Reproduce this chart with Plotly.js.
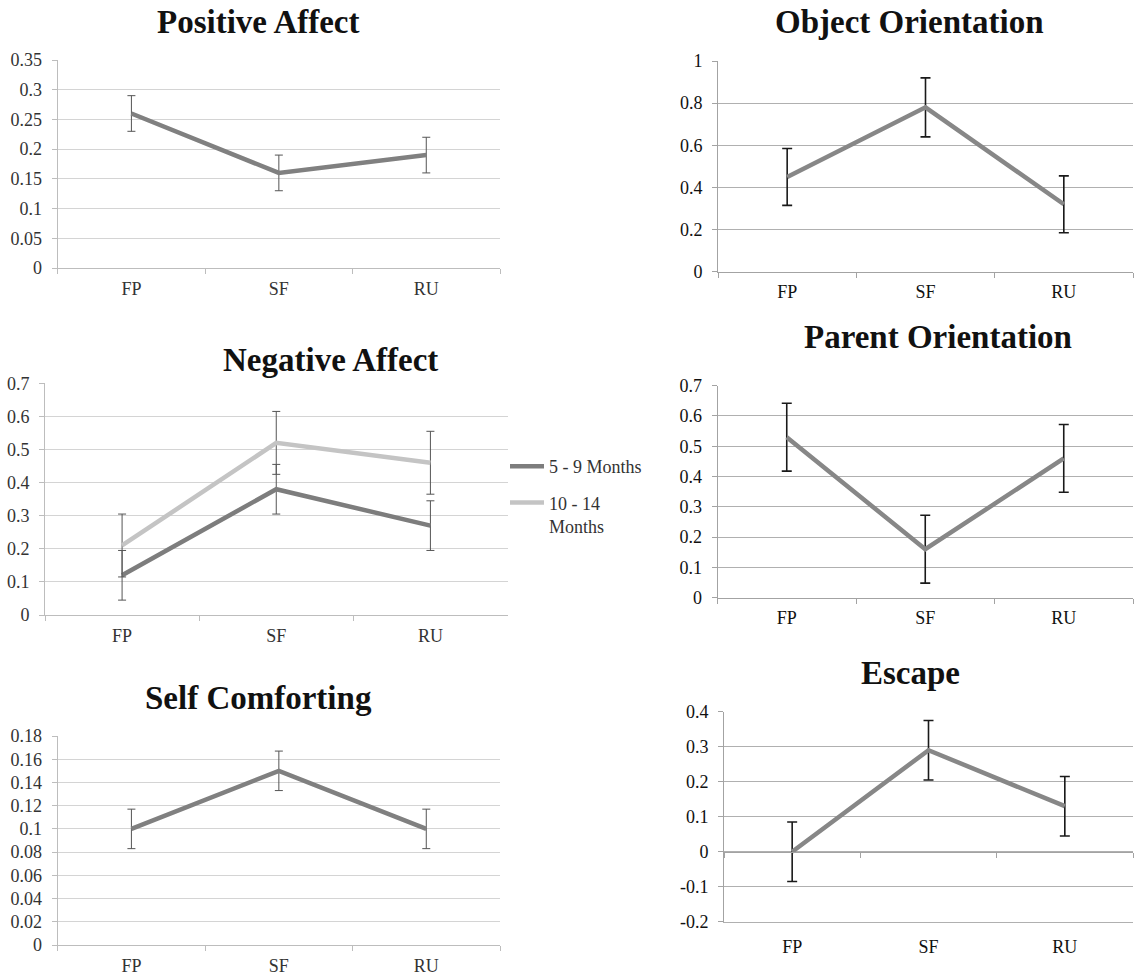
<!DOCTYPE html>
<html><head><meta charset="utf-8">
<script src="https://cdn.plot.ly/plotly-3.0.1.min.js"></script>
<style>html,body{margin:0;padding:0;background:#fff}#chart{width:1135px;height:976px}</style>
</head><body><div id="chart"></div>
<script>
// ---------- data ----------
const categories = ['FP', 'SF', 'RU'];

const positiveAffect = [0.26, 0.16, 0.19];
const positiveAffectErr = [0.03, 0.03, 0.03];

const objectOrientation = [0.45, 0.78, 0.32];
const objectOrientationErr = [0.135, 0.14, 0.135];

const negAffectYoung = [0.12, 0.38, 0.27];
const negAffectYoungErr = [0.075, 0.075, 0.075];
const negAffectOld = [0.21, 0.52, 0.46];
const negAffectOldErr = [0.095, 0.095, 0.095];

const parentOrientation = [0.53, 0.16, 0.46];
const parentOrientationErr = [0.112, 0.112, 0.112];

const selfComforting = [0.10, 0.15, 0.10];
const selfComfortingErr = [0.017, 0.017, 0.017];

const escapeVals = [0.0, 0.29, 0.13];
const escapeErr = [0.085, 0.085, 0.085];

const seriesNames = ['5 - 9 Months', '10 - 14<br>Months'];
const panelTitles = ['Positive Affect', 'Object Orientation', 'Negative Affect',
                     'Parent Orientation', 'Self Comforting', 'Escape'];

const ticksPositive = ['0', '0.05', '0.1', '0.15', '0.2', '0.25', '0.3', '0.35'];
const ticksObject = ['0', '0.2', '0.4', '0.6', '0.8', '1'];
const ticksNegative = ['0', '0.1', '0.2', '0.3', '0.4', '0.5', '0.6', '0.7'];
const ticksParent = ['0', '0.1', '0.2', '0.3', '0.4', '0.5', '0.6', '0.7'];
const ticksSelf = ['0', '0.02', '0.04', '0.06', '0.08', '0.1', '0.12', '0.14', '0.16', '0.18'];
const ticksEscape = ['-0.2', '-0.1', '0', '0.1', '0.2', '0.3', '0.4'];

// ---------- layout helpers ----------
const W = 1135, H = 976;
const FONT = 'Liberation Serif';
const px = (a, b) => [a / W, b / W];
const py = (top, bottom) => [1 - bottom / H, 1 - top / H];

const leftStyle = {grid: '#d4d4d4', axis: '#bdbdbd', text: '#333333', err: '#555555', errT: 1, errW: 4, line: '#808080'};
const rightStyle = {grid: '#b0b0b0', axis: '#a3a3a3', text: '#111111', err: '#1a1a1a', errT: 1.6, errW: 5, line: '#878787'};

function yAxis(labels, domain, anchor, st) {
  const vals = labels.map(Number);
  return {
    domain: domain, anchor: anchor,
    range: [Math.min(...vals), Math.max(...vals)],
    tickmode: 'array', tickvals: vals, ticktext: labels,
    showline: true, linecolor: st.axis, linewidth: 1,
    ticks: 'outside', ticklen: 5, tickcolor: st.axis, tickwidth: 1,
    showgrid: true, gridcolor: st.grid, gridwidth: 1,
    zeroline: false,
    tickfont: {family: FONT, size: 18, color: st.text},
    ticklabelstandoff: 6, fixedrange: true
  };
}
function xAxis(domain, anchor, st) {
  return {
    domain: domain, anchor: anchor,
    type: 'category', categoryorder: 'array', categoryarray: categories,
    range: [-0.5, 2.5],
    showline: true, linecolor: st.axis, linewidth: 1,
    ticks: 'outside', tickson: 'boundaries', ticklen: 5, tickcolor: st.axis, tickwidth: 1,
    showgrid: false, zeroline: false,
    tickfont: {family: FONT, size: 18, color: st.text},
    ticklabelstandoff: 4, fixedrange: true
  };
}
function lineTrace(y, err, xa, ya, st, color, name, showlegend, group) {
  return {
    type: 'scatter', mode: 'lines', x: categories, y: y,
    xaxis: xa, yaxis: ya, name: name, showlegend: showlegend, legendgroup: group,
    line: {color: color, width: 4.5},
    error_y: {type: 'data', array: err, visible: true, color: st.err, thickness: st.errT, width: st.errW},
    hoverinfo: 'skip'
  };
}

// panel pixel boxes [left, right, top, bottom]
const boxes = {
  pos: [57.7, 500, 60, 268],
  obj: [718, 1133, 61, 271.7],
  neg: [45, 507.5, 383.3, 615],
  par: [717.5, 1133, 385.7, 597.7],
  self: [57.7, 500, 736, 945],
  esc: [724, 1133, 711.7, 921.7]
};
const dom = b => ({x: px(b[0], b[1]), y: py(b[2], b[3])});

const traces = [
  lineTrace(positiveAffect, positiveAffectErr, 'x', 'y', leftStyle, leftStyle.line, 'Positive Affect', false, 'p'),
  lineTrace(objectOrientation, objectOrientationErr, 'x2', 'y2', rightStyle, rightStyle.line, 'Object Orientation', false, 'o'),
  lineTrace(negAffectYoung, negAffectYoungErr, 'x3', 'y3', leftStyle, '#7d7d7d', seriesNames[0], true, 'g1'),
  lineTrace(negAffectOld, negAffectOldErr, 'x3', 'y3', leftStyle, '#c4c4c4', seriesNames[1], true, 'g2'),
  lineTrace(parentOrientation, parentOrientationErr, 'x4', 'y4', rightStyle, rightStyle.line, 'Parent Orientation', false, 'q'),
  lineTrace(selfComforting, selfComfortingErr, 'x5', 'y5', leftStyle, leftStyle.line, 'Self Comforting', false, 's'),
  lineTrace(escapeVals, escapeErr, 'x6', 'y6', rightStyle, rightStyle.line, 'Escape', false, 'e'),
  // invisible helper trace carrying the escape categories onto the zero-crossing axis
  {type: 'scatter', mode: 'markers', x: categories, y: escapeVals, xaxis: 'x7', yaxis: 'y6',
   marker: {opacity: 0}, showlegend: false, hoverinfo: 'skip'}
];

const d = {};
for (const k in boxes) d[k] = dom(boxes[k]);

const escRange = ticksEscape.map(Number);
const escMin = Math.min(...escRange), escMax = Math.max(...escRange);
const escZeroPos = d.esc.y[0] + (d.esc.y[1] - d.esc.y[0]) * ((0 - escMin) / (escMax - escMin));

const layout = {
  width: W, height: H,
  margin: {l: 0, r: 0, t: 0, b: 0},
  paper_bgcolor: '#ffffff', plot_bgcolor: 'rgba(0,0,0,0)',
  hovermode: false,
  showlegend: true,
  legend: {
    x: 505 / W, y: 1 - 448 / H, xanchor: 'left', yanchor: 'top',
    bgcolor: 'rgba(0,0,0,0)', borderwidth: 0,
    font: {family: FONT, size: 18, color: '#333333'},
    valign: 'top', tracegroupgap: 10, itemwidth: 34
  },
  xaxis: xAxis(d.pos.x, 'y', leftStyle),
  yaxis: yAxis(ticksPositive, d.pos.y, 'x', leftStyle),
  xaxis2: xAxis(d.obj.x, 'y2', rightStyle),
  yaxis2: yAxis(ticksObject, d.obj.y, 'x2', rightStyle),
  xaxis3: xAxis(d.neg.x, 'y3', leftStyle),
  yaxis3: yAxis(ticksNegative, d.neg.y, 'x3', leftStyle),
  xaxis4: xAxis(d.par.x, 'y4', rightStyle),
  yaxis4: yAxis(ticksParent, d.par.y, 'x4', rightStyle),
  xaxis5: xAxis(d.self.x, 'y5', leftStyle),
  yaxis5: yAxis(ticksSelf, d.self.y, 'x5', leftStyle),
  xaxis6: Object.assign(xAxis(d.esc.x, 'y6', rightStyle), {ticks: '', linecolor: rightStyle.grid, ticklabelstandoff: 9}),
  yaxis6: yAxis(ticksEscape, d.esc.y, 'x6', rightStyle),
  xaxis7: Object.assign(xAxis(d.esc.x, 'free', rightStyle), {overlaying: 'x6', position: escZeroPos, showticklabels: false}),
  annotations: []
};

const titlePos = [[258, 22], [909, 22], [330, 360], [938, 337], [258, 698], [910, 673]];
panelTitles.forEach((t, i) => {
  layout.annotations.push({
    text: '<b>' + t + '</b>', xref: 'paper', yref: 'paper',
    x: titlePos[i][0] / W, y: 1 - titlePos[i][1] / H,
    xanchor: 'center', yanchor: 'middle', showarrow: false,
    font: {family: FONT, size: 33, color: '#111111'}
  });
});

Plotly.newPlot('chart', traces, layout, {staticPlot: true, displayModeBar: false});
</script>
</body></html>
